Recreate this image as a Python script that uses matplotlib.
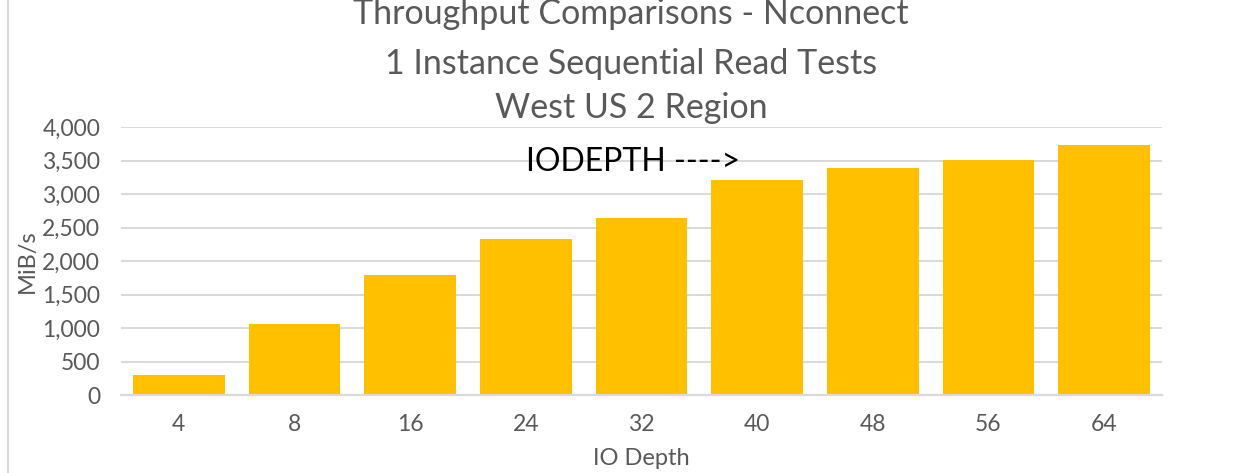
import numpy as np
import matplotlib
matplotlib.use("Agg")
import matplotlib.pyplot as plt
from matplotlib.lines import Line2D
from matplotlib.ticker import FuncFormatter

# IO depth categories and measured throughput (MiB/s)
io_depth = ["4", "8", "16", "24", "32", "40", "48", "56", "64"]
throughput = [298, 1060, 1790, 2328, 2642, 3209, 3388, 3507, 3731]

title_lines = ["Throughput Comparisons - Nconnect",
               "1 Instance Sequential Read Tests",
               "West US 2 Region"]

plt.rcParams['font.family'] = ['Lato', 'DejaVu Sans']

grey_txt = "#595959"
grid_c = "#D9D9D9"

fig = plt.figure(figsize=(12.47, 4.73), dpi=100)
ax = fig.add_axes([121/1247, 1-395/473, (1162-121)/1247, (395-127)/473])

x = np.arange(len(io_depth))
ax.bar(x, throughput, width=0.79, color="#FFC000", zorder=3)

ax.set_xlim(-0.5, len(io_depth)-0.5)
ax.set_ylim(0, 4000)
ax.set_yticks(range(0, 4001, 500))
ax.yaxis.set_major_formatter(FuncFormatter(lambda v, p: f"{int(v):,}"))
ax.set_xticks(x)
ax.set_xticklabels(io_depth)

ax.grid(axis='y', color=grid_c, linewidth=1.4, zorder=0)
for s in ['top', 'right', 'left']:
    ax.spines[s].set_visible(False)
ax.spines['bottom'].set_color(grid_c)
ax.spines['bottom'].set_linewidth(1.6)
ax.spines['bottom'].set_zorder(4)

ax.tick_params(axis='both', length=0, labelsize=16.5, labelcolor=grey_txt)
ax.tick_params(axis='y', pad=15)
ax.tick_params(axis='x', pad=14)

ax.set_ylabel("MiB/s", fontsize=17, color=grey_txt, labelpad=3)
ax.set_xlabel("IO Depth", fontsize=17, color=grey_txt, labelpad=9)

# annotation inside the plot
ax.text(3.0, 3480, "IODEPTH ---->", fontsize=23, color="black",
        ha='left', va='center', zorder=5)

# title, top line partly cut off by the frame
for ty, line in zip([24, 74, 118], title_lines):
    fig.text(631/1247, 1-ty/473, line, fontsize=24.5, color=grey_txt,
             ha='center', va='baseline')

# chart border on the left
fig.add_artist(Line2D([8/1247, 8/1247], [0, 1], color=grid_c, linewidth=1.5,
                      transform=fig.transFigure))

fig.savefig("out.png", dpi=100)
